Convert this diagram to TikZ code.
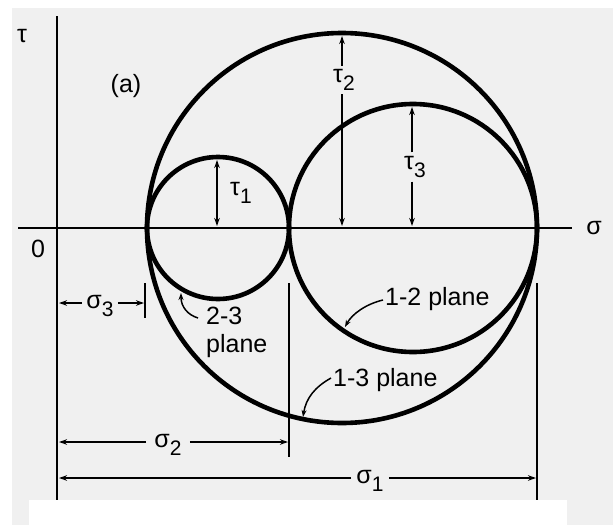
\documentclass[tikz,border=0pt]{standalone}
\usepackage{fontspec}
\setmainfont{Liberation Sans}
\usetikzlibrary{arrows.meta}
\newcommand{\symsub}[2]{#1\raisebox{-0.55ex}{\fontsize{21}{21}\selectfont #2}}
\begin{document}
\begin{tikzpicture}[x=1pt,y=-1pt,
  mohr/.style={line width=4.6pt},
  axisline/.style={line width=2.6pt},
  dimarrow/.style={line width=1.7pt,-{Stealth[length=8pt,width=5.5pt]}},
  dimboth/.style={line width=1.7pt,{Stealth[length=8pt,width=5.5pt]}-{Stealth[length=8pt,width=5.5pt]}},
  ticker/.style={line width=1.7pt},
  lab/.style={font=\fontsize{25}{28}\selectfont,inner sep=0pt},
  dimlab/.style={lab,inner xsep=4pt,inner ysep=4pt},
  callout/.style={line width=1.5pt,-{Stealth[length=7pt,width=5pt]}}]
% page
\fill[white] (0,0) rectangle (613,525);
\fill[black!6] (12,8) rectangle (613,525);
\useasboundingbox (0,0) rectangle (613,525);
% axes
\coordinate (Otop) at (57,16);
\coordinate (Obot) at (57,500);
\coordinate (Hleft) at (18,228);
\coordinate (Hright) at (572,228);
\draw[axisline] (Otop) -- (Obot);
\draw[axisline] (Hleft) -- (Hright);
\node[lab] (tau) at (22,36) {τ};
\node[lab] (sig) at (594,228) {σ};
\node[lab] (zero) at (38,249) {0};
\node[lab] (a) at (126,86) {(a)};
% circles
\coordinate (C13) at (342,228);
\coordinate (C23) at (218,228);
\coordinate (C12) at (413,228);
\draw[mohr] (C13) circle (195);
\draw[mohr] (C23) circle (71);
\draw[mohr] (C12) circle (124);
% tau dimensions
\coordinate (T1top) at (217,160);
\coordinate (T1bot) at (217,226);
\draw[dimboth] (T1bot) -- (T1top);
\node[lab] (t1) at (241,193) {\symsub{τ}{1}};
\coordinate (T2top) at (342,36);
\coordinate (T2bot) at (342,226);
\node[dimlab] (t2) at (344,80) {\symsub{τ}{2}};
\draw[dimarrow] (t2.north -| T2top) -- (T2top);
\draw[dimarrow] (t2.south -| T2bot) -- (T2bot);
\coordinate (T3top) at (412,107);
\coordinate (T3bot) at (412,226);
\node[dimlab] (t3) at (415,167) {\symsub{τ}{3}};
\draw[dimarrow] (t3.north -| T3top) -- (T3top);
\draw[dimarrow] (t3.south -| T3bot) -- (T3bot);
% sigma dimensions
\coordinate (S3l) at (59,303);
\coordinate (S3r) at (144,303);
\coordinate (S3ta) at (145,283);
\coordinate (S3tb) at (145,318);
\draw[ticker] (S3ta) -- (S3tb);
\node[dimlab] (s3) at (100,306) {\symsub{σ}{3}};
\draw[dimarrow] (s3.west |- S3l) -- (S3l);
\draw[dimarrow] (s3.east |- S3r) -- (S3r);
\coordinate (S2l) at (59,442);
\coordinate (S2r) at (288,442);
\coordinate (S2ta) at (289,283);
\coordinate (S2tb) at (289,457);
\draw[ticker] (S2ta) -- (S2tb);
\node[dimlab,inner xsep=8pt] (s2) at (168,445) {\symsub{σ}{2}};
\draw[dimarrow] (s2.west |- S2l) -- (S2l);
\draw[dimarrow] (s2.east |- S2r) -- (S2r);
\coordinate (S1l) at (59,478);
\coordinate (S1r) at (536,478);
\coordinate (S1ta) at (537,283);
\coordinate (S1tb) at (537,500);
\draw[ticker] (S1ta) -- (S1tb);
\node[dimlab,inner xsep=5pt] (s1) at (370,481) {\symsub{σ}{1}};
\draw[dimarrow] (s1.west |- S1l) -- (S1l);
\draw[dimarrow] (s1.east |- S1r) -- (S1r);
% plane labels
\node[lab,align=left,anchor=north west] (p23) at (206,307) {2-3\\plane};
\coordinate (A23s) at (198,318);
\coordinate (A23e) at (181,293);
\draw[callout] (A23s) .. controls (188,315) and (181,307) .. (A23e);
\node[lab,anchor=west] (p12) at (385,299) {1-2 plane};
\coordinate (A12e) at (345,327);
\draw[callout] ([xshift=-2pt,yshift=-1pt]p12.west) .. controls (366,304) and (352,314) .. (A12e);
\node[lab,anchor=west] (p13) at (333,380) {1-3 plane};
\coordinate (A13e) at (303,417);
\draw[callout] ([xshift=-2pt,yshift=2pt]p13.west) .. controls (315,387) and (306,398) .. (A13e);
% bottom white strip
\fill[white] (29,500) rectangle (567,525);
\end{tikzpicture}
\end{document}
